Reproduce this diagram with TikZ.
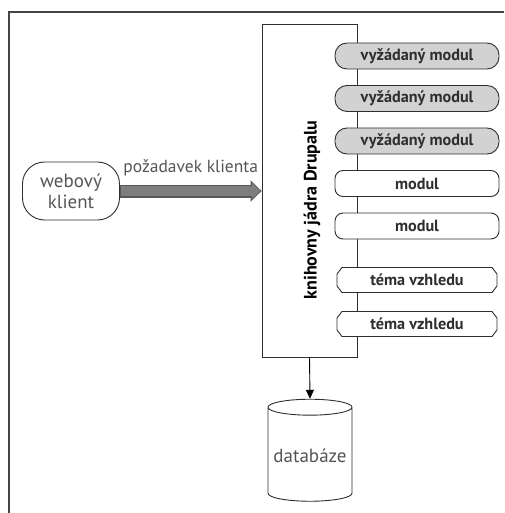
\documentclass[tikz,border=0pt]{standalone}
\usepackage{fontspec}
\setmainfont{PT Sans}
\usepackage{xcolor}
\usepackage{tikz}
\usetikzlibrary{arrows.meta}
\usetikzlibrary{shapes}
\usetikzlibrary{positioning}
\definecolor{textgrey}{HTML}{555555}
\definecolor{linegrey}{HTML}{2E2E2E}
\definecolor{reqfill}{HTML}{D2D2D2}
\definecolor{arrowfill}{HTML}{7E7E7E}
\tikzset{%
  every module/.style={
    draw=linegrey,
    line width=0.9pt,
    fill=white,
    minimum width=164pt,
    minimum height=26pt,
    inner sep=0pt,
    text=linegrey,
    font=\fontsize{16.2}{18}\selectfont\bfseries
  },
  module req/.style={
    rounded corners=12pt,
    fill=reqfill
  },
  module plain/.style={
    rounded corners=8pt
  },
  module theme/.style={
    draw=none,
    fill=none
  },
  theme edge/.style={
    draw=linegrey,
    line width=0.9pt,
    fill=white
  },
}

\begin{document}
\begin{tikzpicture}[x=1pt, y=-1pt, >={Triangle[length=9pt, width=8pt]}]

    \useasboundingbox (0,0) rectangle (504,513);

    % outer frame, cut off at the page edge
    \draw [line width=1.6pt, draw=textgrey!80!black] (9,513) |- (504,12);

    \node [draw=linegrey, line width=0.9pt, minimum width=95pt,
        minimum height=333pt] (core) at (309.5,190.5) {};
    \node [rotate=90, text=black, font=\fontsize{18}{20}\selectfont\bfseries]
        (core-label) at (312,210) {knihovny jádra Drupalu};

    \foreach \m/\l [count=\y] in {req/vyžádaný modul, req/vyžádaný modul,
        req/vyžádaný modul, plain/modul, plain/modul}
    \node [every module/.try, module \m/.try] (module-\y) at (417,13.5+\y*42.5) {\l};

    % themes: chamfered outline first, then the text node
    \foreach \y in {1,2} {
        \coordinate (theme-c) at (417,236+\y*44);
        \draw [theme edge] ([shift={(-75,-12.5)}]theme-c) -- ([shift={(75,-12.5)}]theme-c)
            -- ([shift={(80,-6)}]theme-c) -- ([shift={(80,6)}]theme-c)
            -- ([shift={(75,12.5)}]theme-c) -- ([shift={(-75,12.5)}]theme-c)
            -- ([shift={(-80,6)}]theme-c) -- ([shift={(-80,-6)}]theme-c) -- cycle;
        \node [every module/.try, module theme/.try] (theme-\y) at (theme-c) {téma vzhledu};
    }

    \node [draw=linegrey, line width=0.9pt, rounded corners=22pt,
        minimum width=97pt, minimum height=58pt, align=center,
        text=textgrey, font=\fontsize{19}{21}\selectfont]
        (client) at (71,191) {webový\\klient};

    \node [cylinder, shape border rotate=90, aspect=0.2, draw=linegrey,
        line width=0.9pt, minimum width=84pt, minimum height=102pt,
        text=textgrey, font=\fontsize{19}{21}\selectfont]
        (db) at (310,456) {databáze};

    % request arrow: dark outline, grey body
    \draw [line width=13pt, draw=linegrey!80,
        -{Triangle[length=11pt, width=21pt]}]
        (client.east) -- (client.east -| core.west)
        node [midway, above=5pt, text=textgrey,
            font=\fontsize{17.5}{19}\selectfont] (request) {požadavek klienta};
    \draw [line width=10pt, draw=arrowfill, shorten >=1.5pt,
        -{Triangle[length=8pt, width=16pt]}]
        ([xshift=0.8pt]client.east) -- (client.east -| core.west);

    \draw [->, line width=0.9pt] (core.south) -- (db.north);

\end{tikzpicture}
\end{document}
